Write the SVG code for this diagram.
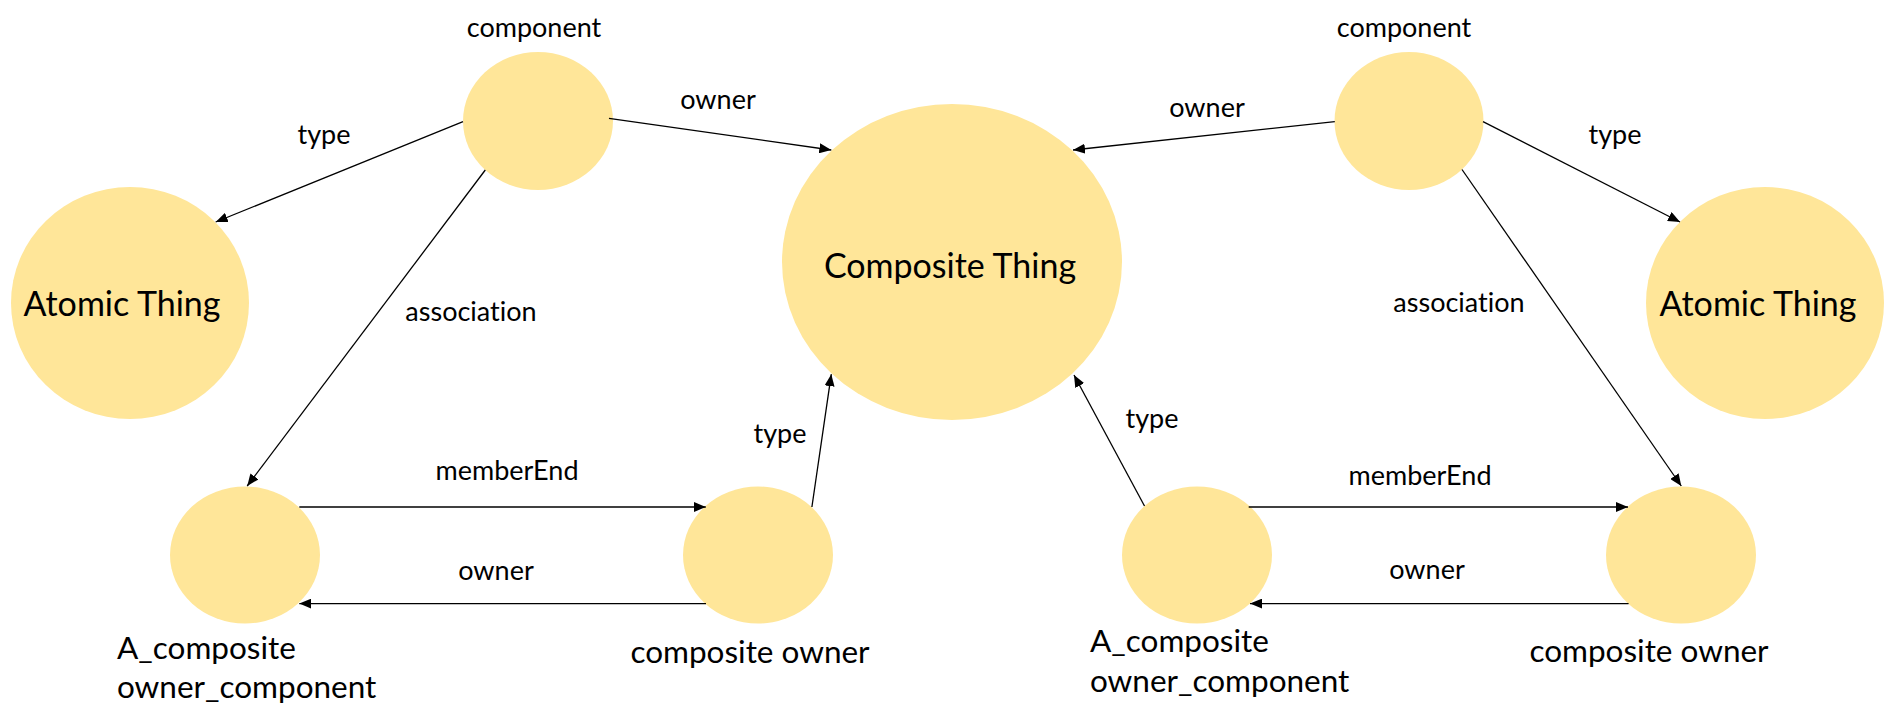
<svg xmlns="http://www.w3.org/2000/svg" width="1897" height="728" viewBox="0 0 1897 728">
<style>
text{font-family:Lato,"Liberation Sans",sans-serif;fill:#000;font-variant-ligatures:none;font-feature-settings:"liga" 0;}
.node{fill:#FFE699;}
.lbl{font-size:27px;text-anchor:middle;}
.nl{font-size:31.5px;}
.big{font-size:34px;text-anchor:middle;}
.edge{stroke:#000;stroke-width:1.3;fill:none;marker-end:url(#ah);}
</style>
<defs>
<marker id="ah" viewBox="0 0 12 10" refX="12" refY="5" markerWidth="12" markerHeight="10" markerUnits="userSpaceOnUse" orient="auto">
<path d="M0,0 L12,5 L0,10 Z" fill="#000"/>
</marker>
</defs>
<rect width="1897" height="728" fill="#fff"/>
<g id="atomic-left"><ellipse class="node" cx="130" cy="303" rx="119" ry="116"/><text class="big" x="122" y="316">Atomic Thing</text></g>
<g id="component-left"><ellipse class="node" cx="538" cy="121" rx="75" ry="69"/><text class="lbl" x="534" y="37">component</text></g>
<g id="composite-thing"><ellipse class="node" cx="952" cy="262" rx="170" ry="158"/><text class="big" x="950" y="278">Composite Thing</text></g>
<g id="acomp-left"><ellipse class="node" cx="245" cy="555" rx="75" ry="68.5"/><text class="nl" x="117" y="659">A_composite</text><text class="nl" x="117" y="698">owner_component</text></g>
<g id="compowner-left"><ellipse class="node" cx="758" cy="555" rx="75" ry="68.5"/><text class="nl" x="750" y="663" text-anchor="middle">composite owner</text></g>
<g id="component-right"><ellipse class="node" cx="1409" cy="121" rx="74.5" ry="69"/><text class="lbl" x="1404" y="37">component</text></g>
<g id="atomic-right"><ellipse class="node" cx="1765" cy="303" rx="119" ry="116"/><text class="big" x="1758" y="316">Atomic Thing</text></g>
<g id="acomp-right"><ellipse class="node" cx="1197" cy="555" rx="75" ry="68.5"/><text class="nl" x="1090" y="652">A_composite</text><text class="nl" x="1090" y="692">owner_component</text></g>
<g id="compowner-right"><ellipse class="node" cx="1681" cy="555" rx="75" ry="68.5"/><text class="nl" x="1649" y="662" text-anchor="middle">composite owner</text></g>
<g id="connectors">
<line class="edge" x1="463" y1="121.6" x2="215.7" y2="222"/>
<text class="lbl" x="324" y="144">type</text>
<line class="edge" x1="609" y1="118.4" x2="831.3" y2="150"/>
<text class="lbl" x="718" y="109">owner</text>
<line class="edge" x1="485.3" y1="170" x2="247.2" y2="486"/>
<text class="lbl" x="471" y="321">association</text>
<line class="edge" x1="299.3" y1="507" x2="705.8" y2="507"/>
<text class="lbl" x="507" y="480">memberEnd</text>
<line class="edge" x1="706" y1="603.6" x2="299.3" y2="603.6"/>
<text class="lbl" x="496" y="580">owner</text>
<line class="edge" x1="811.9" y1="507" x2="831.3" y2="374.2"/>
<text class="lbl" x="780" y="443">type</text>
<line class="edge" x1="1334.8" y1="121.6" x2="1073" y2="150"/>
<text class="lbl" x="1207" y="117">owner</text>
<line class="edge" x1="1483" y1="121.6" x2="1680" y2="222"/>
<text class="lbl" x="1615" y="144">type</text>
<line class="edge" x1="1462" y1="169.5" x2="1681.3" y2="486"/>
<text class="lbl" x="1459" y="312">association</text>
<line class="edge" x1="1144.5" y1="506" x2="1074" y2="375"/>
<text class="lbl" x="1152" y="428">type</text>
<line class="edge" x1="1248.7" y1="507" x2="1628" y2="507"/>
<text class="lbl" x="1420" y="485">memberEnd</text>
<line class="edge" x1="1628.6" y1="603.6" x2="1250" y2="603.6"/>
<text class="lbl" x="1427" y="579">owner</text>
</g>
</svg>
